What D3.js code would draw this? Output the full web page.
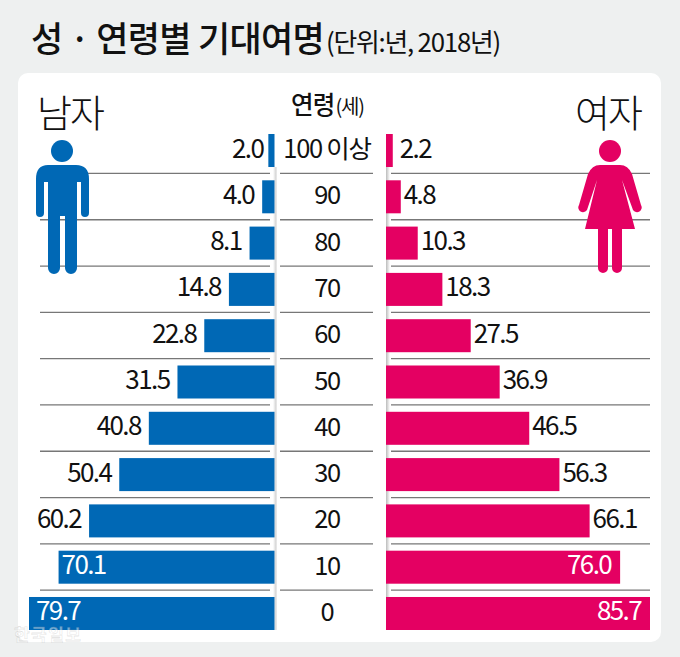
<!DOCTYPE html>
<html>
<head>
<meta charset="utf-8">
<title>성 · 연령별 기대여명</title>
<style>
html, body { margin: 0; padding: 0; background: #eef0f0; }
svg { display: block; }
text { font-family: "Noto Sans CJK KR", sans-serif; fill: #111; }
.val { font-size: 26px; letter-spacing: -1.6px; }
.age { font-size: 25.5px; letter-spacing: -1.3px; }
</style>
</head>
<body>
<svg width="680" height="657"></svg>
<script src="https://d3js.org/d3.v7.min.js"></script>
<script>
var ages = ["100 이상", "90", "80", "70", "60", "50", "40", "30", "20", "10", "0"];
var male = [2.0, 4.0, 8.1, 14.8, 22.8, 31.5, 40.8, 50.4, 60.2, 70.1, 79.7];
var female = [2.2, 4.8, 10.3, 18.3, 27.5, 36.9, 46.5, 56.3, 66.1, 76.0, 85.7];

var blue = "#0068b5", pink = "#e40062", lineColor = "#777";

var svg = d3.select("svg");

// white panel
svg.append("rect")
    .attr("x", 18).attr("y", 73)
    .attr("width", 643).attr("height", 569)
    .attr("rx", 10)
    .attr("fill", "#fff");

var defs = svg.append("defs");
var shade = defs.append("linearGradient").attr("id", "shade");
shade.append("stop").attr("offset", 0).attr("stop-color", "#bbb");
shade.append("stop").attr("offset", 1).attr("stop-color", "#fff");
var shadeL = defs.append("linearGradient").attr("id", "shadeL");
shadeL.append("stop").attr("offset", 0).attr("stop-color", "#fff");
shadeL.append("stop").attr("offset", 1).attr("stop-color", "#ccc");

// 3.08 px per year on both sides
var xL = d3.scaleLinear().domain([0, 79.7]).range([274.5, 29]);
var xR = d3.scaleLinear().domain([0, 85.7]).range([386, 650]);
var y = d3.scaleBand().domain(ages).range([134, 630]).paddingInner(0.287);
var step = y.step(), bw = y.bandwidth();

// title
var title = svg.append("text").attr("x", 31).attr("y", 52);
title.append("tspan")
    .attr("font-size", 35).attr("font-weight", 500).attr("letter-spacing", -0.7)
    .text("성 · 연령별 기대여명");
title.append("tspan")
    .attr("dx", 2).attr("font-size", 25.8).attr("letter-spacing", -1.2)
    .text("(단위:년, 2018년)");

// header labels
svg.append("text").attr("x", 37).attr("y", 127)
    .attr("font-size", 38).attr("font-weight", 300).attr("letter-spacing", -2).text("남자");
svg.append("text").attr("x", 575).attr("y", 127)
    .attr("font-size", 38).attr("font-weight", 300).attr("letter-spacing", -2).text("여자");
var head = svg.append("text").attr("x", 291).attr("y", 114);
head.append("tspan").attr("font-size", 24.5).attr("font-weight", 500).attr("letter-spacing", -0.8).text("연령");
head.append("tspan").attr("font-size", 20).attr("letter-spacing", -1.2).attr("dx", 1).text("(세)");

// separators
var seps = svg.append("g").attr("stroke", lineColor).attr("stroke-width", 1.3);
ages.slice(0, -1).forEach(function(a, i) {
  var ly = y(a) + bw + (step - bw) / 2 - 0.2;
  [[i == 0 ? 88 : 40, 270], [280, 373], [391, 650]].forEach(function(s) {
    seps.append("line").attr("x1", s[0]).attr("x2", s[1]).attr("y1", ly).attr("y2", ly);
  });
});

// soft fold at the centre
svg.append("rect").attr("x", 273).attr("y", y(ages[0]) + bw).attr("width", 3.5)
    .attr("height", 630 - y(ages[0]) - bw).attr("fill", "url(#shadeL)");
svg.append("rect").attr("x", 386).attr("y", y(ages[0]) + bw).attr("width", 4)
    .attr("height", 630 - y(ages[0]) - bw).attr("fill", "url(#shade)");

// bars
svg.append("g").selectAll("rect").data(male).join("rect")
    .attr("x", function(d) { return xL(d); })
    .attr("y", function(d, i) { return y(ages[i]); })
    .attr("width", function(d) { return xL(0) - xL(d); })
    .attr("height", bw)
    .attr("fill", blue);
svg.append("g").selectAll("rect").data(female).join("rect")
    .attr("x", xR(0))
    .attr("y", function(d, i) { return y(ages[i]); })
    .attr("width", function(d) { return xR(d) - xR(0); })
    .attr("height", bw)
    .attr("fill", pink);

// values; the two longest bars carry theirs inside
svg.append("g").selectAll("text").data(male).join("text")
    .attr("class", "val")
    .attr("x", function(d) { return d > 70 ? xL(d) + (d > 79 ? 7 : 3) : xL(d) - (d < 3 ? 5 : 8); })
    .attr("y", function(d, i) { return y(ages[i]) + bw / 2 + 7; })
    .attr("text-anchor", function(d) { return d > 70 ? "start" : "end"; })
    .style("fill", function(d) { return d > 70 ? "#fff" : "#111"; })
    .text(function(d) { return d.toFixed(1); });
svg.append("g").selectAll("text").data(female).join("text")
    .attr("class", "val")
    .attr("x", function(d) { return d > 70 ? xR(d) - 9 : xR(d) + (d < 3 ? 7 : 3); })
    .attr("y", function(d, i) { return y(ages[i]) + bw / 2 + 7; })
    .attr("text-anchor", function(d) { return d > 70 ? "end" : "start"; })
    .style("fill", function(d) { return d > 70 ? "#fff" : "#111"; })
    .text(function(d) { return d.toFixed(1); });

// age labels
svg.append("g").selectAll("text").data(ages).join("text")
    .attr("class", "age")
    .attr("x", 327)
    .attr("y", function(a) { return y(a) + bw / 2 + 7.5; })
    .attr("text-anchor", "middle")
    .text(function(a) { return a; });

// man pictogram
var man = svg.append("g").attr("fill", blue);
man.append("circle").attr("cx", 62).attr("cy", 151).attr("r", 11);
man.append("path").attr("d",
  "M48,165 H76 Q89,165 89,179 V213 A4,4 0 0 1 81,213 V182 H77 V268 A6,6 0 0 1 65,268 V216 H60 V268 A6,6 0 0 1 48,268 V182 H44 V213 A4,4 0 0 1 36,213 V179 Q36,165 48,165 Z");

// woman pictogram
var woman = svg.append("g").attr("fill", pink);
woman.append("circle").attr("cx", 610).attr("cy", 151).attr("r", 11);
woman.append("path").attr("d",
  "M600,165 H620 Q628,165 632,174 L641,205 A4,4 0 0 1 633,210 L622,180 L635,229 H622 V268 A5,5 0 0 1 612,268 V229 H608 V268 A5,5 0 0 1 598,268 V229 H585 L597,180 L587,210 A4,4 0 0 1 579,205 L588,174 Q592,165 600,165 Z");

// watermark
svg.append("text").attr("x", 14).attr("y", 641)
    .attr("font-size", 17).attr("font-weight", 700).attr("textLength", 67)
    .style("fill", "#fff").attr("opacity", 0.45).attr("stroke", "#999").attr("stroke-width", 0.3)
    .text("한국일보");
</script>
</body>
</html>
